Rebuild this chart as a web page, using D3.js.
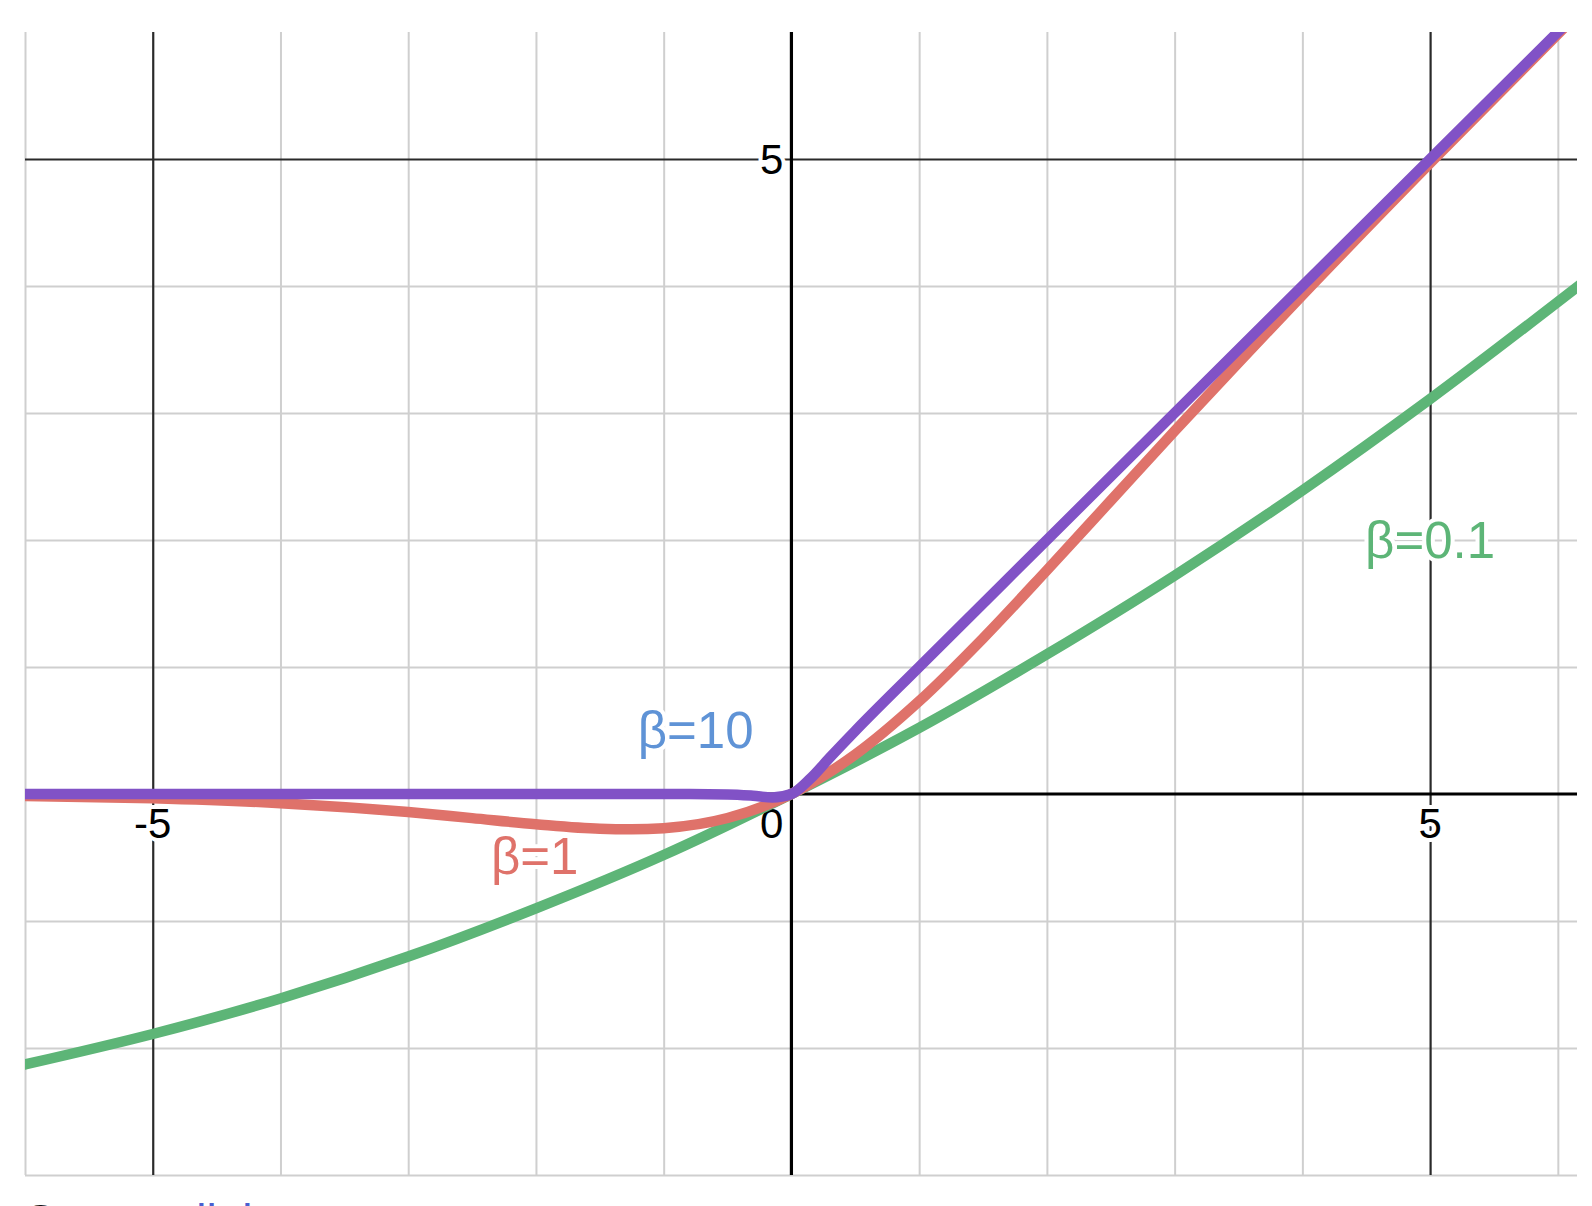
<!DOCTYPE html>
<html>
<head>
<meta charset="utf-8">
<script src="https://cdn.jsdelivr.net/npm/d3@7"></script>
<style>
body { margin: 0; background: #fff; overflow: hidden; }
svg { display: block; font-family: "Liberation Sans", Arial, sans-serif; }
.grid line { stroke: #cfcfcf; stroke-width: 2; }
.grid path { display: none; }
.major line { stroke: #2a2a2a; stroke-width: 2.2; }
.major path { display: none; }
.tick-label { font-size: 42px; fill: #000; stroke: #fff; stroke-width: 8; paint-order: stroke; stroke-linejoin: round; }
.curve { fill: none; stroke-width: 10.5; stroke-linecap: round; stroke-linejoin: round; }
.clabel { font-size: 51px; stroke: #fff; stroke-width: 8; paint-order: stroke; stroke-linejoin: round; }
</style>
</head>
<body>
<svg width="1592" height="1206"></svg>
<script>
// readings, swish curves for three beta values
var seriesNames = ["β=0.1", "β=1", "β=10"];
var seriesColors = ["#5db577", "#df726a", "#8152c6"];

var xB01 = [-6, -5, -4, -3, -2, -1, 0, 1, 2, 3, 4, 5, 6.2];
var yB01 = [-2.13, -1.89, -1.61, -1.28, -0.90, -0.48, 0, 0.52, 1.10, 1.72, 2.39, 3.11, 4.03];

var xB1 = [-6, -5, -4, -3, -2.5, -2, -1.5, -1.25, -1, -0.5, 0, 0.5, 1, 1.5, 2, 2.5, 3, 3.5, 4, 5, 6.2];
var yB1 = [-0.015, -0.034, -0.072, -0.142, -0.19, -0.238, -0.274, -0.278, -0.269, -0.189, 0, 0.311, 0.731, 1.226, 1.762, 2.31, 2.858, 3.397, 3.928, 4.967, 6.187];

var xB10 = [-6, -3, -1, -0.5, -0.3, -0.15, 0, 0.15, 0.3, 0.5, 1, 2, 4, 6.2];
var yB10 = [0, 0, 0, -0.003, -0.014, -0.027, 0, 0.123, 0.286, 0.497, 1, 2, 4, 6.2];

var xMinor = [-6, -4, -3, -2, -1, 1, 2, 3, 4, 6];
var yMinor = [-3, -2, -1, 1, 2, 3, 4];
var majorTicks = [-5, 5];
var xTickLabels = ["-5", "5"];
var yTickLabels = ["5"];

var svg = d3.select("svg"),
	plotLeft = 25, plotRight = 1577, plotTop = 32, plotBottom = 1175,
	width = plotRight - plotLeft,
	height = plotBottom - plotTop;

var x = d3.scaleLinear().domain([-6, 6.15]).range([plotLeft, plotRight]);
var y = d3.scaleLinear().domain([-3, 6]).range([plotBottom, plotTop]);

// minor grid
svg.append("g")
	.attr("class", "grid")
	.attr("transform", "translate(0," + plotBottom + ")")
	.call(d3.axisBottom(x).tickValues(xMinor).tickSize(-height).tickFormat(""));
svg.append("g")
	.attr("class", "grid")
	.attr("transform", "translate(" + plotLeft + ",0)")
	.call(d3.axisLeft(y).tickValues(yMinor).tickSize(-width).tickFormat(""));

// major grid at +-5
svg.append("g")
	.attr("class", "major")
	.attr("transform", "translate(0," + plotBottom + ")")
	.call(d3.axisBottom(x).tickValues(majorTicks).tickSize(-height).tickFormat(""));
svg.append("g")
	.attr("class", "major")
	.attr("transform", "translate(" + plotLeft + ",0)")
	.call(d3.axisLeft(y).tickValues([5]).tickSize(-width).tickFormat(""));

// zero axes
svg.append("line")
	.attr("x1", plotLeft).attr("x2", plotRight)
	.attr("y1", y(0)).attr("y2", y(0))
	.attr("stroke", "#000").attr("stroke-width", 3.2);
svg.append("line")
	.attr("x1", x(0)).attr("x2", x(0))
	.attr("y1", plotTop).attr("y2", plotBottom)
	.attr("stroke", "#000").attr("stroke-width", 3.2);

// tick labels
svg.selectAll(".xlab")
	.data(majorTicks)
	.enter().append("text")
	.attr("class", "tick-label")
	.attr("x", function(d) { return x(d); })
	.attr("y", y(0) + 44)
	.attr("text-anchor", "middle")
	.text(function(d, i) { return xTickLabels[i]; });
svg.append("text")
	.attr("class", "tick-label")
	.attr("x", x(0) - 8)
	.attr("y", y(0) + 44)
	.attr("text-anchor", "end")
	.text("0");
svg.append("text")
	.attr("class", "tick-label")
	.attr("x", x(0) - 8)
	.attr("y", y(5) + 15)
	.attr("text-anchor", "end")
	.text(yTickLabels[0]);

// curves
svg.append("defs").append("clipPath")
	.attr("id", "clip")
	.append("rect")
	.attr("x", plotLeft).attr("y", plotTop)
	.attr("width", width).attr("height", height);

var line = d3.line()
	.x(function(d) { return x(d[0]); })
	.y(function(d) { return y(d[1]); })
	.curve(d3.curveMonotoneX);

var series = [d3.zip(xB01, yB01), d3.zip(xB1, yB1), d3.zip(xB10, yB10)];

svg.append("g")
	.attr("clip-path", "url(#clip)")
	.selectAll("path")
	.data(series)
	.enter().append("path")
	.attr("class", "curve")
	.attr("stroke", function(d, i) { return seriesColors[i]; })
	.attr("d", line);

// curve labels
var labelAt = [[5.0, 1.86, "#5db577"], [-2.01, -0.63, "#df726a"], [-0.75, 0.36, "#5f93d6"]];
svg.selectAll(".clabel")
	.data(seriesNames)
	.enter().append("text")
	.attr("class", "clabel")
	.attr("text-anchor", "middle")
	.attr("x", function(d, i) { return x(labelAt[i][0]); })
	.attr("y", function(d, i) { return y(labelAt[i][1]); })
	.attr("fill", function(d, i) { return labelAt[i][2]; })
	.text(function(d) { return d; });

// source line, mostly cut off at the bottom
var src = svg.append("text")
	.attr("x", plotLeft)
	.attr("y", 1237)
	.attr("font-size", 46)
	.attr("fill", "#111");
src.append("tspan").text("Source: ");
src.append("tspan").attr("fill", "#4a5fd0").text("link");
</script>
</body>
</html>
